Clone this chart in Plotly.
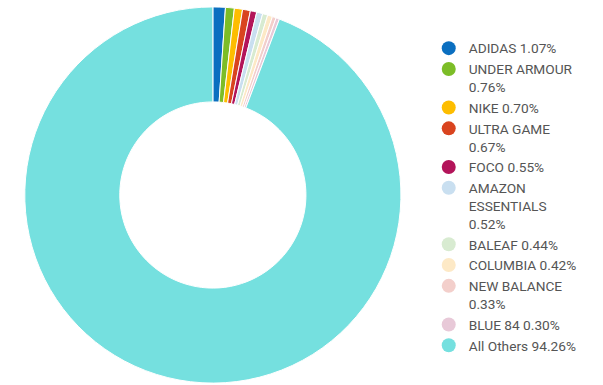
import plotly.graph_objects as go

brands = ["ADIDAS", "UNDER ARMOUR", "NIKE", "ULTRA GAME", "FOCO",
          "AMAZON ESSENTIALS", "BALEAF", "COLUMBIA", "NEW BALANCE", "BLUE 84", "All Others"]
legend_labels = ["ADIDAS 1.07%", "UNDER ARMOUR<br>0.76%", "NIKE 0.70%", "ULTRA GAME<br>0.67%",
                 "FOCO 0.55%", "AMAZON<br>ESSENTIALS<br>0.52%", "BALEAF 0.44%", "COLUMBIA 0.42%",
                 "NEW BALANCE<br>0.33%", "BLUE 84 0.30%", "All Others 94.26%"]
shares = [1.07, 0.76, 0.70, 0.67, 0.55, 0.52, 0.44, 0.42, 0.33, 0.30, 94.26]
colors = ["#0b6fc0", "#7cbd27", "#fdbd00", "#d9441f", "#b3145a", "#c9dff0",
          "#d8ebd1", "#fde9c6", "#f3cfcb", "#e8c9d8", "#75e0df"]

fig = go.Figure()
fig.add_trace(go.Pie(
    labels=brands, values=shares, hole=0.495, sort=False, direction="clockwise",
    rotation=0, marker=dict(colors=colors, line=dict(color="white", width=1)),
    textinfo="none", showlegend=False, hoverinfo="label+percent",
    domain=dict(x=[0.041, 0.665], y=[0.005, 0.982]),
))
for lbl, c in zip(legend_labels, colors):
    fig.add_trace(go.Scatter(x=[None], y=[None], mode="markers", name=lbl,
                             marker=dict(color=c, size=14, symbol="circle")))

fig.update_layout(
    width=603, height=385, margin=dict(l=0, r=0, t=0, b=0),
    paper_bgcolor="white", plot_bgcolor="white",
    xaxis=dict(visible=False), yaxis=dict(visible=False),
    font=dict(family="Roboto", size=13.7, color="#555555"),
    legend=dict(x=0.711, y=0.915, xanchor="left", yanchor="top", valign="top",
                tracegroupgap=0, itemwidth=30,
                font=dict(family="Roboto", size=13.7, color="#555555")),
)
fig.write_html("out.html", config={"displayModeBar": False},
               post_script="document.body.style.margin='0';")
